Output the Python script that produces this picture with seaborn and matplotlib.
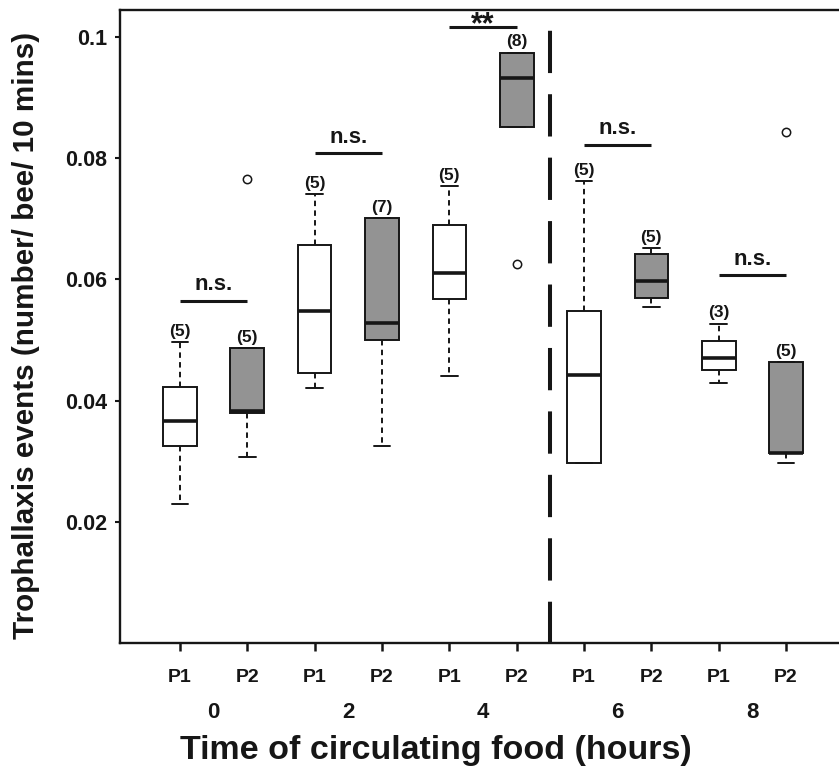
import matplotlib
matplotlib.use("Agg")
import matplotlib.pyplot as plt
import numpy as np
import pandas as pd
import seaborn as sns

# ---- data ----
hours = ["0", "2", "4", "6", "8"]
populations = ["P1", "P2"]

t0_P1 = [0.0229, 0.0325, 0.0366, 0.0423, 0.0496]
t0_P2 = [0.0307, 0.0380, 0.0382, 0.0487, 0.0765]
t2_P1 = [0.0421, 0.0445, 0.0548, 0.0657, 0.0741]
t2_P2 = [0.0325, 0.0495, 0.0505, 0.0528, 0.0701, 0.0701, 0.0701]
t4_P1 = [0.0441, 0.0568, 0.0610, 0.0690, 0.0754]
t4_P2 = [0.0625, 0.0852, 0.0852, 0.0930, 0.0936, 0.0974, 0.0974, 0.0974]
t6_P1 = [0.0297, 0.0297, 0.0443, 0.0548, 0.0762]
t6_P2 = [0.0554, 0.0569, 0.0598, 0.0642, 0.0652]
t8_P1 = [0.0429, 0.0471, 0.0527]
t8_P2 = [0.0297, 0.0313, 0.0313, 0.0463, 0.0843]

groups = [t0_P1, t0_P2, t2_P1, t2_P2, t4_P1, t4_P2, t6_P1, t6_P2, t8_P1, t8_P2]

sig_labels = ["n.s.", "n.s.", "**", "n.s.", "n.s."]
sig_heights = [0.0565, 0.0808, 0.1016, 0.0822, 0.0607]

y_ticks = [0.02, 0.04, 0.06, 0.08, 0.1]
y_tick_labels = ["0.02", "0.04", "0.06", "0.08", "0.1"]

# ---- long table ----
order = [f"{h}-{p}" for h in hours for p in populations]
rows = []
for slot, vals in zip(order, groups):
    pop = slot.split("-")[1]
    for v in vals:
        rows.append({"slot": slot, "Population": pop, "value": v})
df = pd.DataFrame(rows)

sns.set_theme(style="white")
plt.rcParams["font.family"] = ["Liberation Sans", "DejaVu Sans"]
INK = "#161616"

W, H = 839, 769
fig = plt.figure(figsize=(W / 100, H / 100), dpi=100)
ax = fig.add_axes([120 / W, 126 / H, 1 - 120 / W, 633 / H])

sns.boxplot(
    data=df, x="slot", y="value", hue="Population",
    order=order, hue_order=populations,
    palette={"P1": "white", "P2": "#939393"},
    dodge=False, width=0.5, linecolor=INK, linewidth=1.4, whis=1.5,
    flierprops=dict(marker="o", markersize=6, markerfacecolor="none",
                    markeredgecolor=INK, markeredgewidth=1.1),
    whiskerprops=dict(linestyle=(0, (2.8, 2.2))),
    medianprops=dict(linewidth=2.6, color=INK),
    legend=False, ax=ax,
)

ax.set_xlim(-0.891, 9.787)
ax.set_ylim(0, 0.10445)

# spines
for side in ["left", "bottom", "top"]:
    ax.spines[side].set_visible(True)
    ax.spines[side].set_color(INK)
    ax.spines[side].set_linewidth(1.7)
ax.spines["right"].set_visible(False)

# ticks
ax.set_xticks(range(len(order)))
ax.set_xticklabels([s.split("-")[1] for s in order], fontweight="bold",
                   fontsize=14, color=INK)
ax.set_yticks(y_ticks)
ax.set_yticklabels(y_tick_labels, fontweight="bold", fontsize=15.5, color=INK)
ax.tick_params(axis="x", direction="out", length=5.5, width=1.8, pad=13,
               bottom=True, color=INK)
ax.tick_params(axis="y", direction="out", length=3.5, width=1.5, pad=6,
               left=True, color=INK)

# hour labels below P1/P2
xt = ax.get_xaxis_transform()
for i, h in enumerate(hours):
    ax.text(2 * i + 0.5, -(713 - 643) / 633, h, transform=xt, ha="center",
            va="center", fontsize=16, fontweight="bold", color=INK)

ax.set_xlabel("Time of circulating food (hours)", fontsize=24.5,
              fontweight="bold", color=INK)
ax.xaxis.set_label_coords((436 - 120) / 719, -(750 - 643) / 633)
ax.xaxis.label.set_va("center")

ax.set_ylabel("Trophallaxis events (number/ bee/ 10 mins)", fontsize=21.3,
              fontweight="bold", color=INK)
ax.yaxis.set_label_coords(-(120 - 26) / 719, 1 - (335 - 10) / 633)
ax.yaxis.label.set_va("center")

# phase separator
ax.axvline(5.5, color=INK, lw=2.9, linestyle=(0.25, (10.5, 5.25)))

# significance bars
for i, (lab, hgt) in enumerate(zip(sig_labels, sig_heights)):
    ax.plot([2 * i, 2 * i + 1], [hgt, hgt], color=INK, lw=2.2,
            solid_capstyle="butt")
    if lab == "**":
        ax.annotate(lab, (2 * i + 0.5, hgt), xytext=(0, -4.5),
                    textcoords="offset points", ha="center", va="baseline",
                    fontsize=22, fontweight="bold", color=INK)
    else:
        ax.annotate(lab, (2 * i + 0.5, hgt), xytext=(0, 4),
                    textcoords="offset points", ha="center", va="bottom",
                    fontsize=16, fontweight="bold", color=INK)

# sample sizes above each box
for k, vals in enumerate(groups):
    arr = np.asarray(vals)
    q1, q3 = np.percentile(arr, [25, 75])
    top = max(arr[arr <= q3 + 1.5 * (q3 - q1)].max(), q3)
    ax.annotate(f"({len(vals)})", (k, top), xytext=(0, 4.5),
                textcoords="offset points", ha="center", va="baseline",
                fontsize=12.5, fontweight="bold", color=INK)

fig.savefig("out.png", dpi=100)
